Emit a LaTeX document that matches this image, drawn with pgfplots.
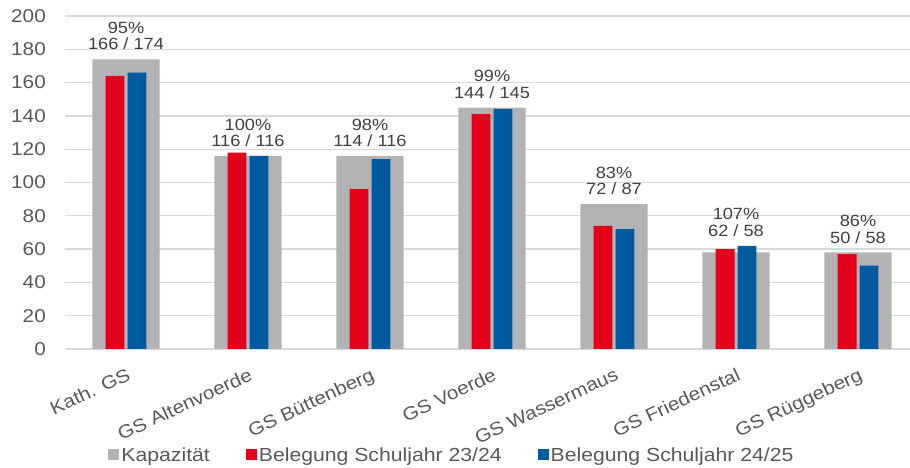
\documentclass[border=0pt]{standalone}
\usepackage{pgfplots}
\pgfplotsset{compat=1.18}
\usepackage{fontspec}
\setmainfont[FakeStretch=1.12]{Liberation Sans}
\definecolor{kapgray}{HTML}{B2B3B5}
\definecolor{belred}{HTML}{E2001A}
\definecolor{belblue}{HTML}{005AA0}
\definecolor{txtgray}{HTML}{595959}
\definecolor{lblgray}{HTML}{404040}
\definecolor{gridgray}{HTML}{D9D9D9}
\pgfplotsset{sqlegend/.style={legend image code/.code={\fill[##1] (0bp,-5.5bp) rectangle (11bp,5.5bp);}}}
\begin{document}
\begin{tikzpicture}
\begin{axis}[
  at={(65bp,119bp)}, anchor=south west,
  width=845bp, height=333bp, scale only axis,
  xmin=-0.5, xmax=6.426, ymin=0, ymax=200,
  ytick={0,20,...,200},
  xtick={0,...,6},
  xticklabels={Kath. GS, GS Altenvoerde, GS Büttenberg, GS Voerde, GS Wassermaus, GS Friedenstal, GS Rüggeberg},
  ymajorgrids, grid style={gridgray, line width=1.3bp},
  axis line style={draw=none},
  tick style={draw=none},
  /pgf/number format/assume math mode=true,
  ticklabel style={text=txtgray},
  yticklabel style={font=\fontsize{18.6}{20}\selectfont, inner sep=0pt, xshift=-19bp},
  xticklabel style={font=\fontsize{18.5}{20}\selectfont, inner sep=0pt, anchor=north east, yshift=-18bp, xshift=0bp, rotate=25},
  legend style={at={(0.458,-0.318)}, anchor=center, draw=none, fill=none,
    font=\fontsize{19}{20}\selectfont, text=txtgray, inner sep=0pt,
    nodes={inner sep=2bp},
    /tikz/every even column/.append style={column sep=34bp}},
  legend columns=3,
]
% Kapazitaet (breiter grauer Balken)
\addplot[ybar, bar width=0.55, bar shift=0, fill=kapgray, draw=none, sqlegend]
  coordinates {(0,174) (1,116) (2,116) (3,145) (4,87) (5,58) (6,58)};
\addlegendentry{Kapazität}
% Belegung 23/24
\addplot[ybar, bar width=0.155, bar shift=-0.09, fill=belred, draw=none, sqlegend]
  coordinates {(0,164) (1,118) (2,96) (3,141) (4,74) (5,60) (6,57)};
\addlegendentry{Belegung Schuljahr 23/24}
% Belegung 24/25
\addplot[ybar, bar width=0.155, bar shift=0.09, fill=belblue, draw=none, sqlegend]
  coordinates {(0,166) (1,116) (2,114) (3,144) (4,72) (5,62) (6,50)};
\addlegendentry{Belegung Schuljahr 24/25}
% Beschriftung: Auslastung
\addplot[ybar, bar width=0.55, bar shift=0, draw=none, fill=none, forget plot,
  point meta=explicit symbolic, nodes near coords,
  every node near coord/.append style={align=center, font=\fontsize{16.3}{16.5}\selectfont,
    text=lblgray, inner sep=0pt, anchor=south, yshift=9bp}]
  coordinates {(0,174) [{95\%\\166 / 174}] (1,116) [{100\%\\116 / 116}]
    (2,116) [{98\%\\114 / 116}] (3,145) [{99\%\\144 / 145}]
    (4,87) [{83\%\\72 / 87}] (5,62) [{107\%\\62 / 58}] (6,58) [{86\%\\50 / 58}]};
\end{axis}
\pgfresetboundingbox
\path (0,0) rectangle (910bp,468bp);
\end{tikzpicture}
\end{document}
